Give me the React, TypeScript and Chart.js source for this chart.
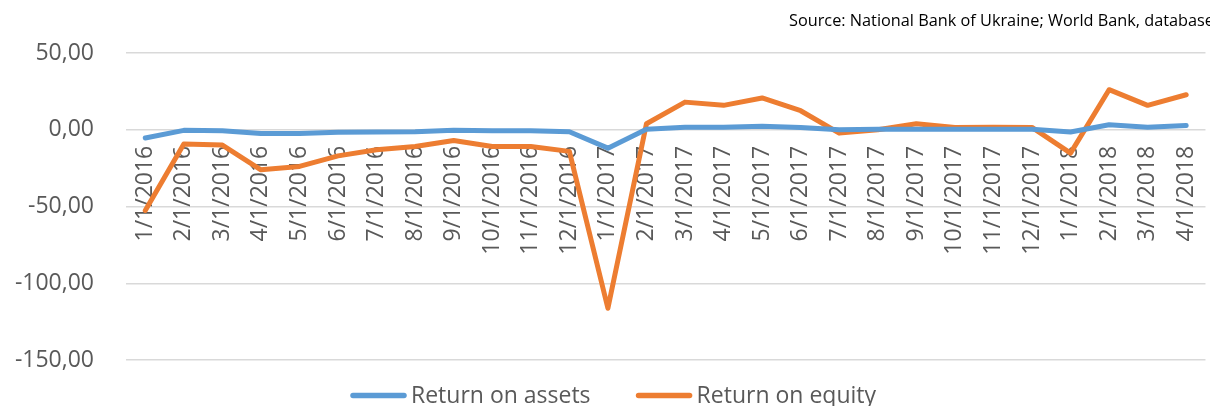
import React, { useEffect, useRef } from "react";
import { Chart, registerables } from "chart.js";

Chart.register(...registerables);

const categories: string[] = [
  "1/1/2016", "2/1/2016", "3/1/2016", "4/1/2016", "5/1/2016", "6/1/2016",
  "7/1/2016", "8/1/2016", "9/1/2016", "10/1/2016", "11/1/2016", "12/1/2016",
  "1/1/2017", "2/1/2017", "3/1/2017", "4/1/2017", "5/1/2017", "6/1/2017",
  "7/1/2017", "8/1/2017", "9/1/2017", "10/1/2017", "11/1/2017", "12/1/2017",
  "1/1/2018", "2/1/2018", "3/1/2018", "4/1/2018",
];

const returnOnAssets: number[] = [
  -5.4, -0.4, -0.6, -2.4, -2.4, -1.7, -1.5, -1.3, -0.4, -0.7, -0.7, -1.3,
  -12.0, 0.4, 1.7, 1.7, 2.2, 1.5, 0.0, 0.3, 0.3, 0.3, 0.3, 0.3,
  -1.5, 3.3, 1.7, 2.8,
];

const returnOnEquity: number[] = [
  -52.6, -9.3, -10.0, -26.1, -23.9, -17.0, -13.0, -10.9, -7.0, -10.9, -10.9, -14.1,
  -116.3, 3.9, 18.0, 15.9, 20.7, 12.4, -2.2, 0.0, 3.9, 1.5, 1.7, 1.5,
  -15.2, 26.1, 15.9, 22.8,
];

const seriesNames: string[] = ["Return on assets", "Return on equity"];
const seriesColors: string[] = ["#5B9BD5", "#ED7D31"];
const yTicks: number[] = [50, 0, -50, -100, -150];
const sourceText = "Source: National Bank of Ukraine; World Bank, database";

const FONT = "'Open Sans', 'Noto Sans', sans-serif";

const sourcePlugin = {
  id: "sourceText",
  afterDraw(chart: any) {
    const ctx = chart.ctx;
    ctx.save();
    ctx.font = `16.3px ${FONT}`;
    ctx.fillStyle = "#000000";
    ctx.textAlign = "left";
    ctx.textBaseline = "alphabetic";
    ctx.fillText(sourceText, 789, 26);
    ctx.restore();
  },
};

const legendPlugin = {
  id: "customLegend",
  afterDraw(chart: any) {
    const ctx = chart.ctx;
    ctx.save();
    ctx.font = `23px ${FONT}`;
    const lineLen = 55;
    const gap = 5;
    const itemGap = 46;
    const widths = seriesNames.map((n) => ctx.measureText(n).width);
    const total =
      widths.reduce((a, w) => a + lineLen + gap + w, 0) + itemGap * (seriesNames.length - 1);
    let x = 613.5 - total / 2;
    const yLine = 395.5;
    seriesNames.forEach((name, i) => {
      ctx.strokeStyle = seriesColors[i];
      ctx.lineWidth = 5.5;
      ctx.lineCap = "round";
      ctx.beginPath();
      ctx.moveTo(x + 2, yLine);
      ctx.lineTo(x + lineLen - 2, yLine);
      ctx.stroke();
      ctx.fillStyle = "#595959";
      ctx.textAlign = "left";
      ctx.textBaseline = "alphabetic";
      ctx.fillText(name, x + lineLen + gap, 403);
      x += lineLen + gap + widths[i] + itemGap;
    });
    ctx.restore();
  },
};

export default function App() {
  const canvasRef = useRef<HTMLCanvasElement | null>(null);

  useEffect(() => {
    if (!canvasRef.current) return;
    const chart = new Chart(canvasRef.current, {
      type: "line",
      data: {
        labels: categories,
        datasets: [
          {
            label: seriesNames[0],
            data: returnOnAssets,
            borderColor: seriesColors[0],
            backgroundColor: seriesColors[0],
            borderWidth: 5,
            pointRadius: 0,
            tension: 0,
            borderJoinStyle: "round",
            borderCapStyle: "round",
          },
          {
            label: seriesNames[1],
            data: returnOnEquity,
            borderColor: seriesColors[1],
            backgroundColor: seriesColors[1],
            borderWidth: 5,
            pointRadius: 0,
            tension: 0,
            borderJoinStyle: "round",
            borderCapStyle: "round",
          },
        ],
      },
      options: {
        animation: false,
        responsive: false,
        maintainAspectRatio: false,
        layout: { padding: { top: 53, bottom: 46, left: 0, right: 12 } },
        plugins: {
          legend: { display: false },
          tooltip: { enabled: false },
          title: { display: false },
        },
        scales: {
          x: {
            type: "category",
            position: { y: 0 } as any,
            offset: true,
            grid: { display: false, drawTicks: false },
            border: { display: false },
            ticks: {
              autoSkip: false,
              minRotation: 90,
              maxRotation: 90,
              padding: 16,
              color: "#595959",
              font: { family: FONT, size: 23 },
            },
          },
          y: {
            type: "linear",
            min: -150,
            max: 50,
            afterFit: (scale: any) => {
              scale.width = 126;
            },
            afterBuildTicks: (scale: any) => {
              scale.ticks = yTicks.slice().reverse().map((v) => ({ value: v }));
            },
            grid: { color: "#D9D9D9", lineWidth: 1.5, drawTicks: false },
            border: { display: false },
            ticks: {
              padding: 32,
              color: "#595959",
              font: { family: FONT, size: 23 },
              callback: (v: any) => Number(v).toFixed(2).replace(".", ","),
            },
          },
        },
      },
      plugins: [sourcePlugin, legendPlugin],
    });
    return () => chart.destroy();
  }, []);

  return (
    <div
      style={{
        position: "absolute",
        left: 0,
        top: 0,
        width: 1210,
        height: 406,
        overflow: "hidden",
        background: "#ffffff",
      }}
    >
      <canvas ref={canvasRef} width={1230} height={406} style={{ display: "block" }} />
    </div>
  );
}
